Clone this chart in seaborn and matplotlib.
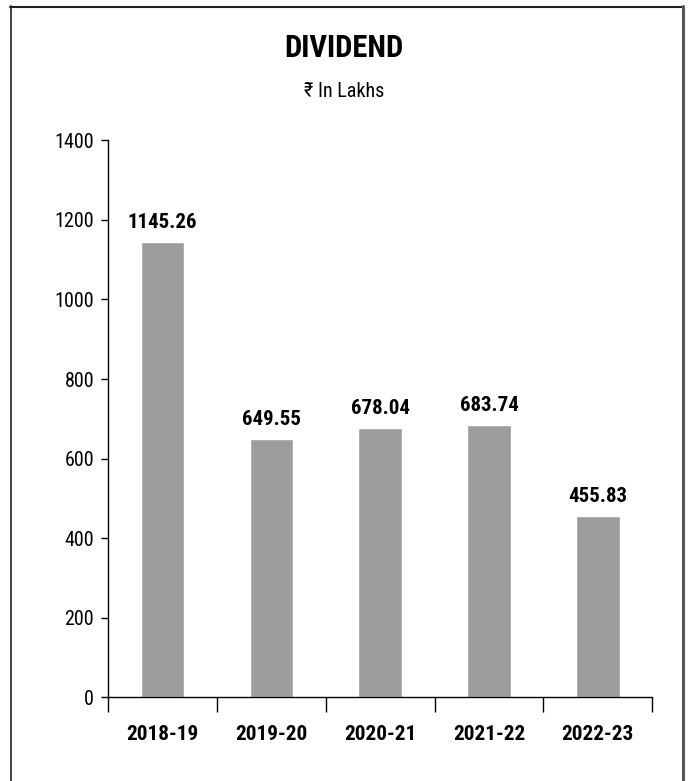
import matplotlib
matplotlib.use("Agg")
import matplotlib.pyplot as plt
from matplotlib import font_manager
from matplotlib.lines import Line2D
import seaborn as sns
import pandas as pd

years = ["2018-19", "2019-20", "2020-21", "2021-22", "2022-23"]
dividend = [1145.26, 649.55, 678.04, 683.74, 455.83]
y_ticks = [0, 200, 400, 600, 800, 1000, 1200, 1400]

sns.set_theme(style="white")
names = {f.name for f in font_manager.fontManager.ttflist}
candidates = ["Roboto Condensed", "Liberation Sans Narrow", "Arial Narrow",
              "Nimbus Sans Narrow", "Archivo Narrow", "PT Sans Narrow",
              "IBM Plex Sans Condensed", "Encode Sans Condensed",
              "Barlow Semi Condensed", "Liberation Sans"]
main_font = next(c for c in candidates if c in names)
plt.rcParams["font.family"] = [main_font, "DejaVu Sans"]

df = pd.DataFrame({"year": years, "dividend": dividend})

fig = plt.figure(figsize=(6.88, 7.81), dpi=100)
ax = fig.add_axes([0.157, 0.107, 0.791, 0.7135])

sns.barplot(data=df, x="year", y="dividend", color="#9d9d9b", width=0.40,
            saturation=1, ax=ax)

ax.set_ylim(0, 1400)
ax.set_xlim(-0.5, len(years) - 0.5)
ax.set_yticks(y_ticks)
ax.set_yticklabels([str(t) for t in y_ticks], fontsize=14.5)
ax.set_xlabel("")
ax.set_ylabel("")

for s in ["top", "right"]:
    ax.spines[s].set_visible(False)
for s in ["left", "bottom"]:
    ax.spines[s].set_color("black")
    ax.spines[s].set_linewidth(1.0)

ax.tick_params(axis="y", which="major", left=True, direction="out", length=5,
               width=1, color="black", pad=5, labelcolor="black")
ax.set_xticks(range(len(years)))
ax.set_xticklabels(years, fontsize=15.3, fontweight="bold")
ax.set_xticks([i - 0.5 for i in range(len(years) + 1)], minor=True)
ax.tick_params(axis="x", which="major", bottom=False, pad=14, labelcolor="black")
ax.tick_params(axis="x", which="minor", bottom=True, direction="out", length=11,
               width=1, color="black")

for i, v in enumerate(dividend):
    ax.annotate(f"{v:.2f}", xy=(i, v), xytext=(0, 10), textcoords="offset points",
                ha="center", va="baseline", fontsize=15, fontweight="bold",
                color="black")

fig.text(0.5, 0.9385, "DIVIDEND", ha="center", va="center",
         fontsize=22, fontweight="bold", color="black")
fig.text(0.5, 0.883, "\u20b9 In Lakhs", ha="center", va="center",
         fontsize=14.5, color="black")

# frame around the panel (open at the bottom)
W, H = 688, 781
fig.add_artist(Line2D([10.5 / W, 10.5 / W], [0, 1 - 6 / H], transform=fig.transFigure,
                      color="#222222", linewidth=1.2))
fig.add_artist(Line2D([10 / W, 684 / W], [1 - 6.5 / H, 1 - 6.5 / H], transform=fig.transFigure,
                      color="#222222", linewidth=1.5))
fig.add_artist(Line2D([683 / W, 683 / W], [0, 1 - 6 / H], transform=fig.transFigure,
                      color="#555555", linewidth=2.2))

fig.savefig("out.png", dpi=100, facecolor="white")
